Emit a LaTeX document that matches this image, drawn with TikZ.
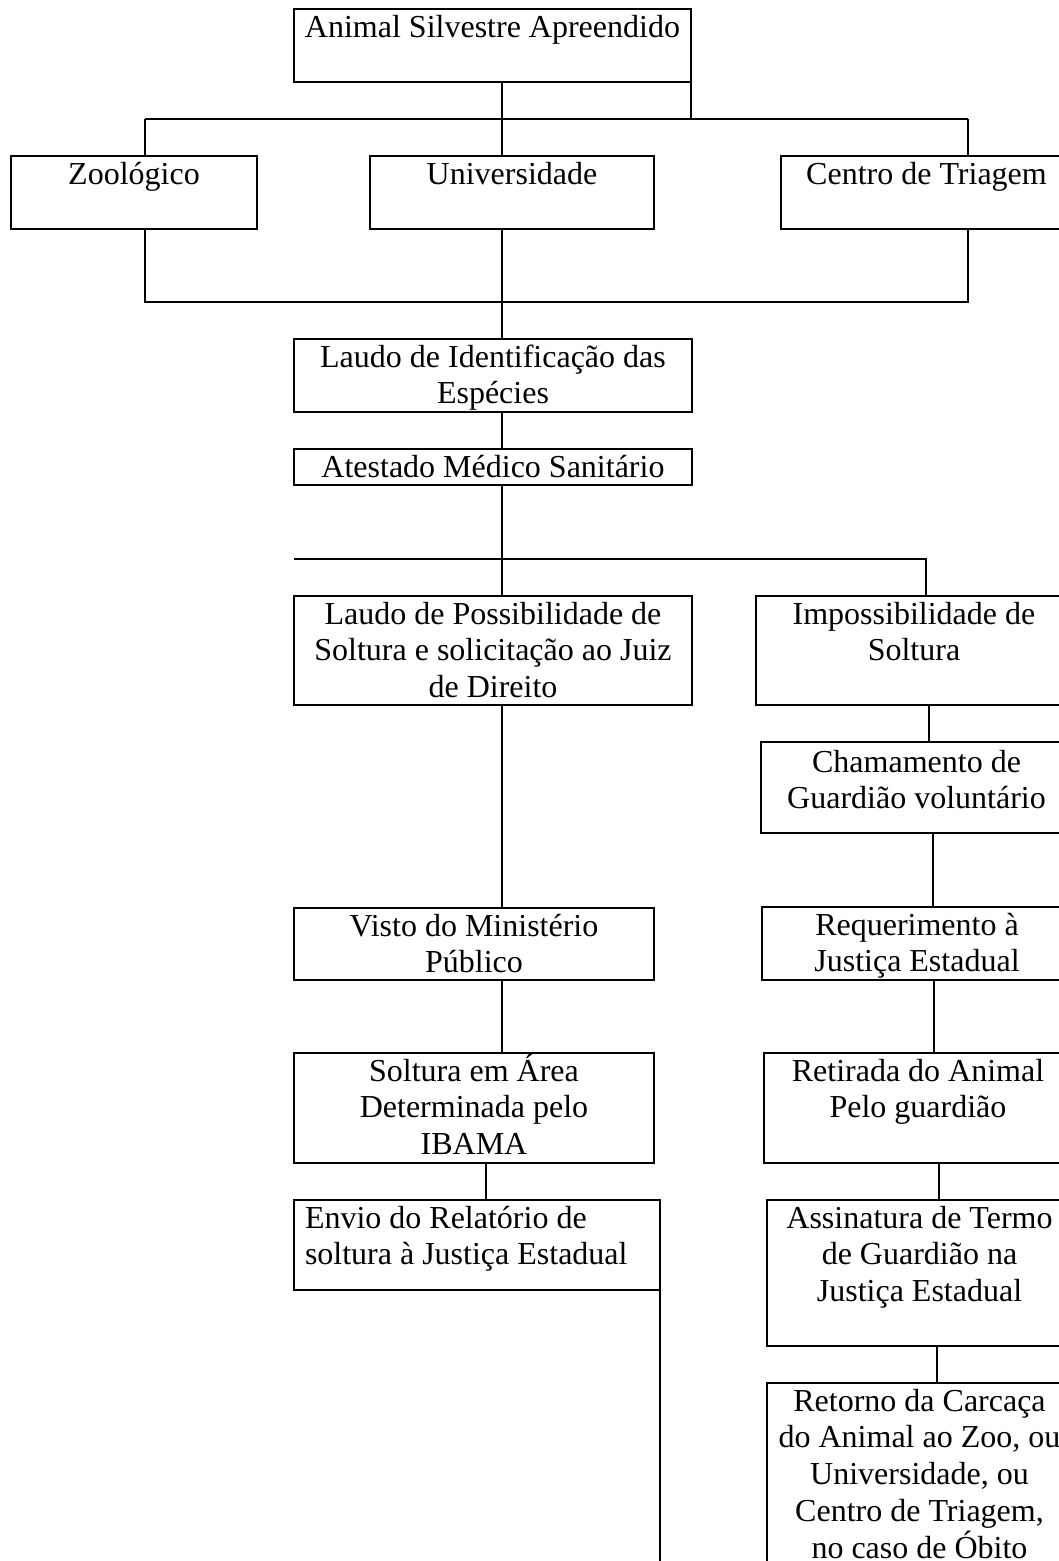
\documentclass[tikz,border=0pt]{standalone}
\usepackage{fontspec}
\setmainfont{Liberation Serif}
\newcommand\fl{\rule{0pt}{28pt}}
\begin{document}
\begin{tikzpicture}[x=1pt,y=-1pt,
  box/.style={draw, line width=1.2pt, inner sep=0pt, outer sep=0pt, anchor=north west,
    font=\fontsize{32}{36.8}\selectfont},
  conn/.style={line width=1.2pt}]
\useasboundingbox (0,0) rectangle (1059,1561);
\clip (0,0) rectangle (1059,1561);
\fill[white] (0,0) rectangle (1059,1561);
% boxes
\node[box] (animal) at (294,9) {\parbox[t][73pt][t]{397pt}{\centering\fl Animal Silvestre Apreendido}};
\node[box] (zoo) at (11,156) {\parbox[t][73pt][t]{246pt}{\centering\fl Zoológico}};
\node[box] (univ) at (370,156) {\parbox[t][73pt][t]{284pt}{\centering\fl Universidade}};
\node[box] (centro) at (781,156) {\parbox[t][73pt][t]{291pt}{\centering\fl Centro de Triagem}};
\node[box] (laudoid) at (294,339) {\parbox[t][73pt][t]{398pt}{\centering\fl Laudo de Identificação das\\ Espécies}};
\node[box] (atestado) at (294,449) {\parbox[t][36pt][t]{398pt}{\centering\fl Atestado Médico Sanitário}};
\node[box] (laudoposs) at (294,596) {\parbox[t][109pt][t]{398pt}{\centering\fl Laudo de Possibilidade de\\ Soltura e solicitação ao Juiz\\ de Direito}};
\node[box] (imposs) at (756,596) {\parbox[t][109pt][t]{316pt}{\centering\fl Impossibilidade de\\ Soltura}};
\node[box] (chamam) at (761,742) {\parbox[t][91pt][t]{311pt}{\centering\rule{0pt}{30pt}Chamamento de\\ Guardião voluntário}};
\node[box] (visto) at (294,908) {\parbox[t][72pt][t]{360pt}{\centering\fl Visto do Ministério\\ Público}};
\node[box] (requer) at (762,907) {\parbox[t][73pt][t]{310pt}{\centering\fl Requerimento à\\ Justiça Estadual}};
\node[box] (soltura) at (294,1053) {\parbox[t][110pt][t]{360pt}{\centering\fl Soltura em Área\\ Determinada pelo\\ IBAMA}};
\node[box] (retirada) at (764,1053) {\parbox[t][110pt][t]{308pt}{\centering\fl Retirada do Animal\\ Pelo guardião}};
\node[box] (envio) at (294,1200) {\parbox[t][90pt][t]{366pt}{\raggedright\leftskip=11pt\fl Envio do Relatório de\\ soltura à Justiça Estadual}};
\node[box] (assin) at (767,1200) {\parbox[t][146pt][t]{305pt}{\centering\fl Assinatura de Termo\\ de Guardião na\\ Justiça Estadual}};
\node[box] (retorno) at (767,1383) {\parbox[t][250pt][t]{305pt}{\centering\fl Retorno da Carcaça\\ do Animal ao Zoo, ou\\ Universidade, ou\\ Centro de Triagem,\\ no caso de Óbito}};
% junction coordinates
\coordinate (h1L) at (145,119);
\coordinate (h1R) at (968,119);
\coordinate (h2L) at (145,302);
\coordinate (h2R) at (968,302);
\coordinate (h3L) at (294,559);
\coordinate (h3R) at (926,559);
% connectors
\draw[conn] (h1L) -- (h1R);
\draw[conn] (animal.south east) -- (animal.south east |- h1R);
\draw[conn] ([xshift=208pt]animal.south west) -- ([xshift=132pt]univ.north west);
\draw[conn] (h1L) -- (h1L |- zoo.north);
\draw[conn] (h1R) -- (h1R |- centro.north);
\draw[conn] (h2L |- zoo.south) -- (h2L) -- (h2R) -- (h2R |- centro.south);
\draw[conn] ([xshift=132pt]univ.south west) -- ([xshift=208pt]laudoid.north west);
\draw[conn] ([xshift=208pt]laudoid.south west) -- ([xshift=208pt]atestado.north west);
\draw[conn] ([xshift=208pt]atestado.south west) -- ([xshift=208pt]laudoposs.north west);
\draw[conn] (h3L) -- (h3R) -- (h3R |- imposs.north);
\draw[conn] ([xshift=208pt]laudoposs.south west) -- ([xshift=208pt]visto.north west);
\draw[conn] ([xshift=208pt]visto.south west) -- ([xshift=208pt]soltura.north west);
\draw[conn] ([xshift=192pt]soltura.south west) -- ([xshift=192pt]envio.north west);
\draw[conn] (envio.south east) -- ++(0,300);
\draw[conn] ([xshift=173pt]imposs.south west) -- ([xshift=168pt]chamam.north west);
\draw[conn] ([xshift=172pt]chamam.south west) -- ([xshift=171pt]requer.north west);
\draw[conn] ([xshift=172pt]requer.south west) -- ([xshift=170pt]retirada.north west);
\draw[conn] ([xshift=175pt]retirada.south west) -- ([xshift=172pt]assin.north west);
\draw[conn] ([xshift=170pt]assin.south west) -- ([xshift=170pt]retorno.north west);
\end{tikzpicture}
\end{document}
